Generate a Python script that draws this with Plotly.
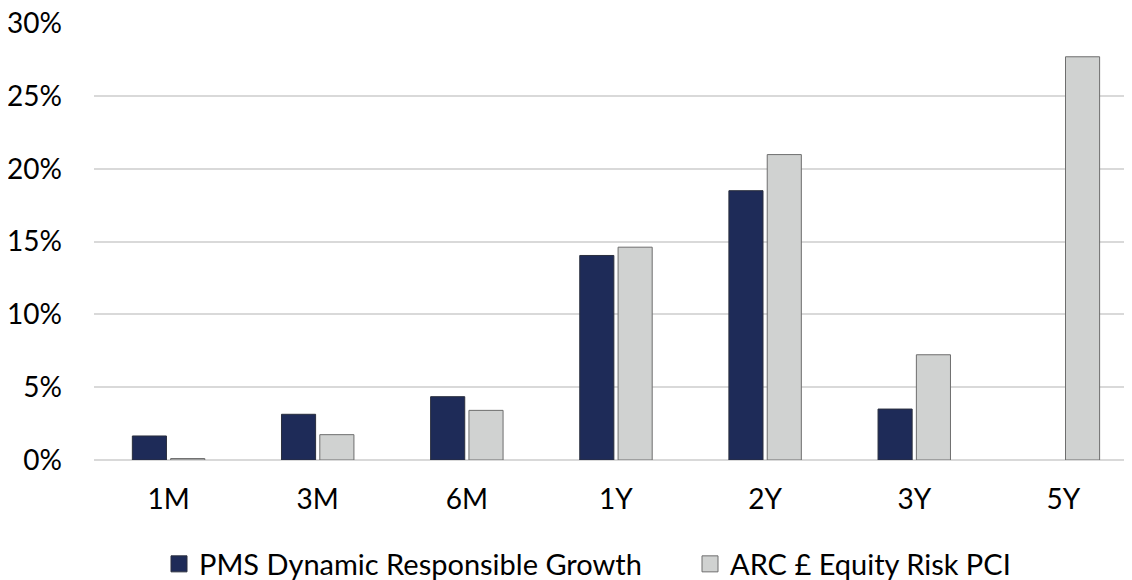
import plotly.graph_objects as go

categories = ["1M", "3M", "6M", "1Y", "2Y", "3Y", "5Y"]
pms_values = [1.65, 3.14, 4.35, 14.05, 18.5, 3.5, None]
arc_values = [0.1, 1.74, 3.41, 14.62, 20.98, 7.23, 27.7]
series_names = ["PMS Dynamic Responsible Growth", "ARC £ Equity Risk PCI"]
y_ticks = [0, 5, 10, 15, 20, 25, 30]
y_tick_labels = [f"{v}%" for v in y_ticks]

dark = "#1e2b58"
dark_line = "#2a2f3e"
light = "#d0d2d1"
light_line = "#6e6e6e"
font_family = "Lato, 'Open Sans', sans-serif"

# page body has an 8px margin, so everything is shifted by 8px on screen
W, H = 1132, 580

fig = go.Figure()
fig.add_trace(go.Bar(x=categories, y=pms_values, name=series_names[0],
                     marker=dict(color=dark, line=dict(color=dark_line, width=1)),
                     showlegend=False))
fig.add_trace(go.Bar(x=categories, y=arc_values, name=series_names[1],
                     marker=dict(color=light, line=dict(color=light_line, width=1)),
                     showlegend=False))
# legend proxies (two independent legends for exact placement)
fig.add_trace(go.Scatter(x=[None], y=[None], mode="markers", name=series_names[0],
                         legend="legend",
                         marker=dict(symbol="square", size=17, color=dark,
                                     line=dict(color=dark_line, width=1))))
fig.add_trace(go.Scatter(x=[None], y=[None], mode="markers", name=series_names[1],
                         legend="legend2",
                         marker=dict(symbol="square", size=17, color=light,
                                     line=dict(color=light_line, width=1))))

legend_common = dict(orientation="h", xref="container", yref="container",
                     xanchor="left", y=1 - 556 / H, yanchor="middle",
                     font=dict(size=29), itemsizing="trace",
                     bgcolor="rgba(0,0,0,0)")

fig.update_layout(
    width=W, height=H,
    margin=dict(l=86, r=8, t=15, b=128, autoexpand=False),
    paper_bgcolor="white", plot_bgcolor="white",
    barmode="group", bargap=0.486, bargroupgap=0.11,
    font=dict(family=font_family, size=28, color="#000000"),
    showlegend=True,
    legend=dict(x=151 / W, **legend_common),
    legend2=dict(x=682 / W, **legend_common),
    xaxis=dict(showgrid=False, showline=False, ticks="", tickfont=dict(size=28),
               range=[-0.5, 6.46], ticklabelstandoff=20, automargin=False),
    yaxis=dict(range=[0, 30.02], tickvals=y_ticks, ticktext=y_tick_labels,
               showgrid=True, gridcolor="#d9d9d9", gridwidth=1.5,
               zeroline=True, zerolinecolor="#d9d9d9", zerolinewidth=1.5,
               showline=False, ticks="", ticklabelstandoff=31,
               ticklabeloverflow="allow",
               tickfont=dict(size=28), automargin=False),
)

fig.write_html("out.html")
